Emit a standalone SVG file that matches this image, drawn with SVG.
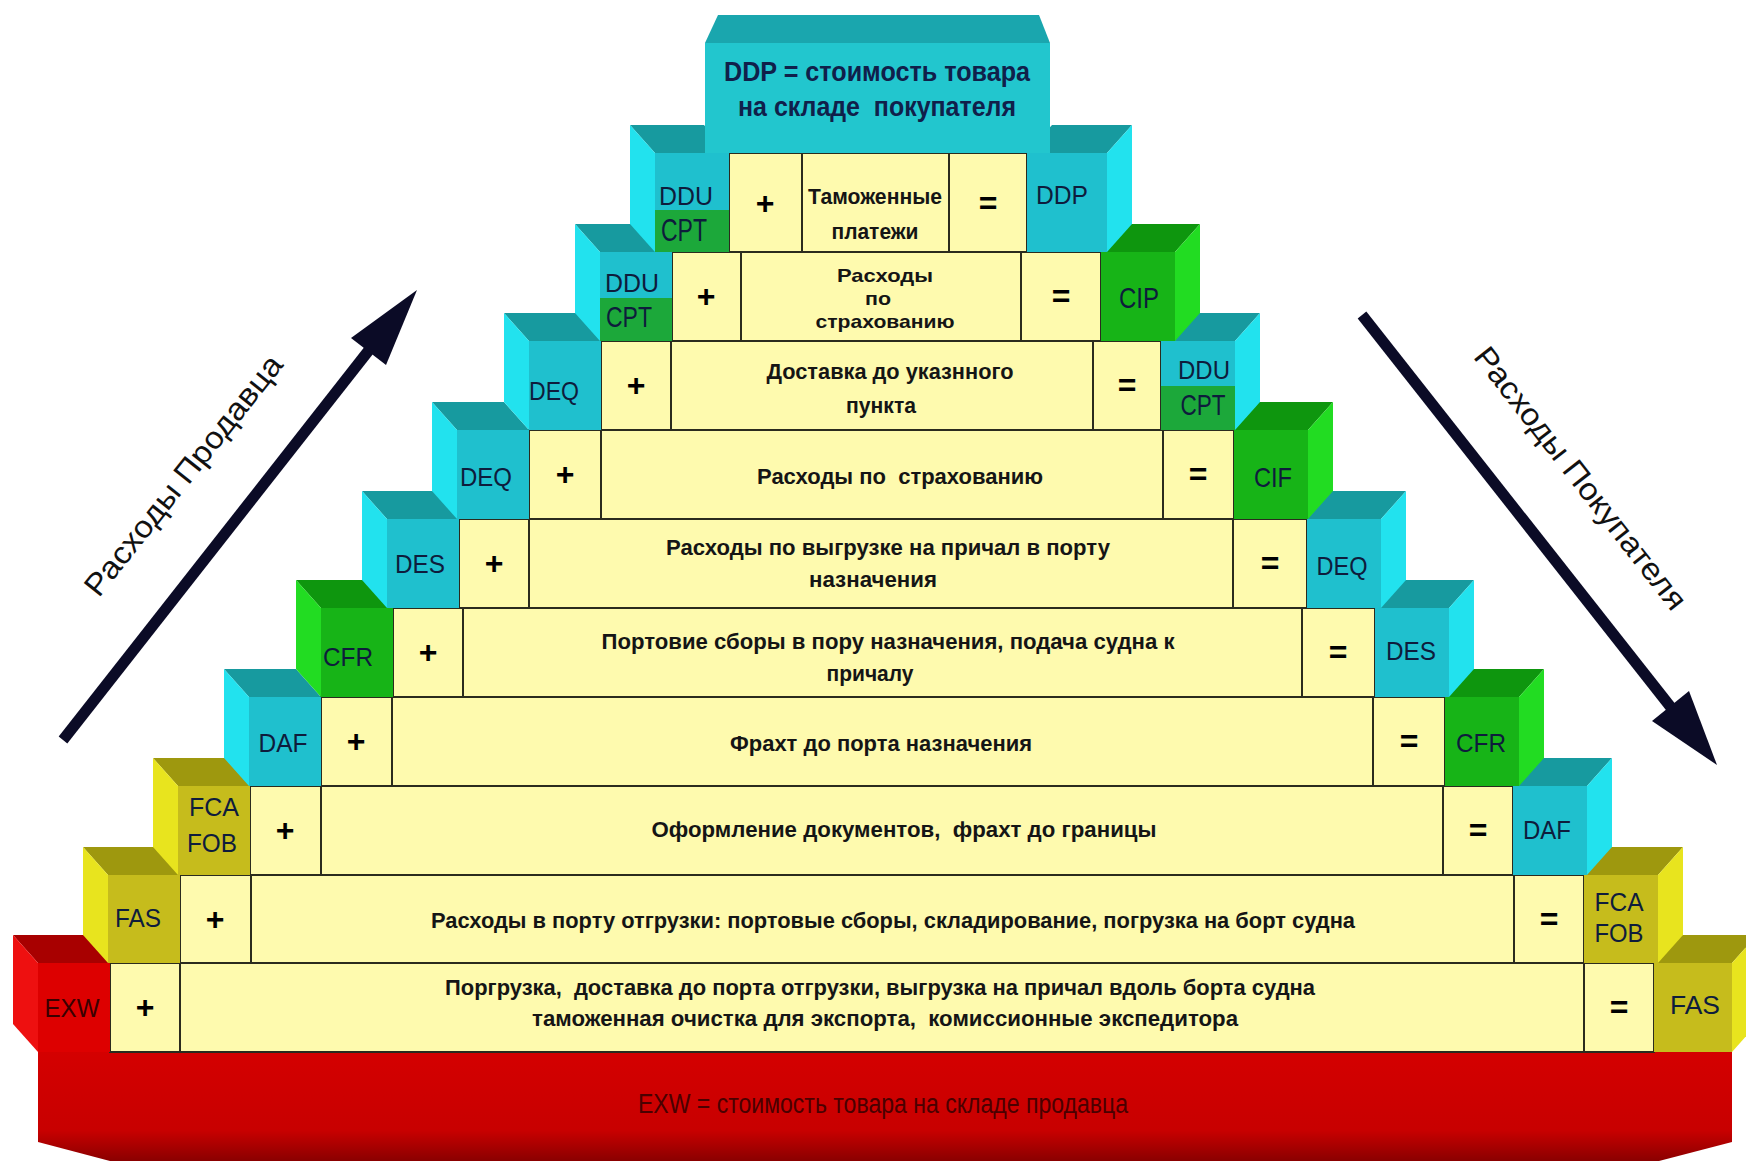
<svg xmlns="http://www.w3.org/2000/svg" width="1746" height="1161" viewBox="0 0 1746 1161">
<defs>
<style>
.cell{fill:#FEFAAE;stroke:#2b2b1e;stroke-width:2}
.vl{stroke:#2b2b1e;stroke-width:2}
.t{font-family:"Liberation Sans",Arial,sans-serif;font-weight:bold;font-size:22px;fill:#151515;text-anchor:middle;white-space:pre}
.t2{font-family:"Liberation Sans",Arial,sans-serif;font-weight:bold;font-size:19px;fill:#151515;text-anchor:middle}
.op{font-family:"Liberation Sans",Arial,sans-serif;font-weight:bold;font-size:32px;fill:#000;text-anchor:middle}
.lb{font-family:"Liberation Sans",Arial,sans-serif;font-size:26px;fill:#0e1c3c;text-anchor:middle}
.lbr{font-family:"Liberation Sans",Arial,sans-serif;font-size:26px;fill:#3a0000;text-anchor:middle}
.big{font-family:"Liberation Sans",Arial,sans-serif;font-weight:bold;font-size:27px;fill:#10204a;text-anchor:middle;white-space:pre}
.ax{font-family:"Liberation Sans",Arial,sans-serif;font-size:31px;fill:#111;text-anchor:middle}
.cf{fill:#1FC0CE}.cs{fill:#22E2EE}.ct{fill:#179A9F}
.gf{fill:#17B417}.gs{fill:#22DC22}.gt{fill:#0E960E}
.of{fill:#C6BC1C}.os{fill:#E8E41E}.ot{fill:#9E980E}
.rf{fill:#DD0000}.rs{fill:#EE1010}.rt{fill:#A80000}
.cp{fill:#1CA83A}
.arr{stroke:#0b0b26;stroke-width:11;fill:none}
.ah{fill:#0b0b26}
</style>
<linearGradient id="baseG" x1="0" y1="0" x2="0" y2="1">
<stop offset="0" stop-color="#D40000"/>
<stop offset="0.72" stop-color="#C80000"/>
<stop offset="1" stop-color="#8A0000"/>
</linearGradient>
</defs>
<rect width="1746" height="1161" fill="#fff"/>

<g id="base">
<polygon points="38,1052 1732,1052 1732,1142 1659,1161 110,1161 38,1142" fill="url(#baseG)"/>
<text x="883" y="1113" textLength="490" lengthAdjust="spacingAndGlyphs" style="font-family:'Liberation Sans',Arial,sans-serif;font-size:27px;fill:#4a0000;text-anchor:middle">EXW = стоимость товара на складе продавца</text>
</g>

<!-- Row 10 -->
<g id="row10">
<rect class="cell" x="110" y="963" width="1544" height="89"/>
<line class="vl" x1="180" y1="963" x2="180" y2="1052"/><line class="vl" x1="1584" y1="963" x2="1584" y2="1052"/>
<text class="op" x="145" y="1018">+</text><text class="op" x="1619" y="1018">=</text>
<text class="t" x="880" y="995" textLength="870" lengthAdjust="spacingAndGlyphs">Поргрузка,  доставка до порта отгрузки, выгрузка на причал вдоль борта судна</text>
<text class="t" x="885" y="1026" textLength="706" lengthAdjust="spacingAndGlyphs">таможенная очистка для экспорта,  комиссионные экспедитора</text>
</g>
<g id="blk-exw">
<polygon class="rt" points="38,963 110,963 85,935 13,935"/><polygon class="rs" points="38,963 13,935 13,1024 38,1052"/><rect class="rf" x="38" y="963" width="72" height="89"/>
<text class="lbr" x="72" y="1017" textLength="55" lengthAdjust="spacingAndGlyphs">EXW</text>
</g>
<g id="blk-fas-r">
<polygon class="ot" points="1654,963 1732,963 1757,935 1679,935"/><polygon class="os" points="1732,963 1757,935 1757,1024 1732,1052"/><rect class="of" x="1654" y="963" width="78" height="89"/>
<text class="lb" x="1695" y="1014" textLength="50" lengthAdjust="spacingAndGlyphs">FAS</text>
</g>

<!-- Row 9 -->
<g id="row9">
<rect class="cell" x="180" y="875" width="1404" height="88"/>
<line class="vl" x1="251" y1="875" x2="251" y2="963"/><line class="vl" x1="1514" y1="875" x2="1514" y2="963"/>
<text class="op" x="215" y="930">+</text><text class="op" x="1549" y="930">=</text>
<text class="t" x="893" y="928" textLength="924" lengthAdjust="spacingAndGlyphs">Расходы в порту отгрузки: портовые сборы, складирование, погрузка на борт судна</text>
</g>
<g id="blk-fas-l">
<polygon class="ot" points="108,875 180,875 155,847 83,847"/><polygon class="os" points="108,875 83,847 83,935 108,963"/><rect class="of" x="108" y="875" width="72" height="88"/>
<text class="lb" x="138" y="927" textLength="46" lengthAdjust="spacingAndGlyphs">FAS</text>
</g>
<g id="blk-fcafob-r">
<polygon class="ot" points="1584,875 1658,875 1683,847 1609,847"/><polygon class="os" points="1658,875 1683,847 1683,935 1658,963"/><rect class="of" x="1584" y="875" width="74" height="88"/>
<text class="lb" x="1619" y="911" textLength="49" lengthAdjust="spacingAndGlyphs">FCA</text>
<text class="lb" x="1619" y="942" textLength="49" lengthAdjust="spacingAndGlyphs">FOB</text>
</g>

<!-- Row 8 -->
<g id="row8">
<rect class="cell" x="250" y="786" width="1263" height="89"/>
<line class="vl" x1="321" y1="786" x2="321" y2="875"/><line class="vl" x1="1443" y1="786" x2="1443" y2="875"/>
<text class="op" x="285" y="841">+</text><text class="op" x="1478" y="841">=</text>
<text class="t" x="904" y="837" textLength="505" lengthAdjust="spacingAndGlyphs">Оформление документов,  фрахт до границы</text>
</g>
<g id="blk-fcafob-l">
<polygon class="ot" points="178,786 250,786 225,758 153,758"/><polygon class="os" points="178,786 153,758 153,847 178,875"/><rect class="of" x="178" y="786" width="72" height="89"/>
<text class="lb" x="214" y="816" textLength="50" lengthAdjust="spacingAndGlyphs">FCA</text>
<text class="lb" x="212" y="852" textLength="50" lengthAdjust="spacingAndGlyphs">FOB</text>
</g>
<g id="blk-daf-r">
<polygon class="ct" points="1513,786 1587,786 1612,758 1538,758"/><polygon class="cs" points="1587,786 1612,758 1612,847 1587,875"/><rect class="cf" x="1513" y="786" width="74" height="89"/>
<text class="lb" x="1547" y="839" textLength="48" lengthAdjust="spacingAndGlyphs">DAF</text>
</g>

<!-- Row 7 -->
<g id="row7">
<rect class="cell" x="321" y="697" width="1124" height="89"/>
<line class="vl" x1="392" y1="697" x2="392" y2="786"/><line class="vl" x1="1373" y1="697" x2="1373" y2="786"/>
<text class="op" x="356" y="752">+</text><text class="op" x="1409" y="752">=</text>
<text class="t" x="881" y="751" textLength="302" lengthAdjust="spacingAndGlyphs">Фрахт до порта назначения</text>
</g>
<g id="blk-daf-l">
<polygon class="ct" points="249,697 321,697 296,669 224,669"/><polygon class="cs" points="249,697 224,669 224,758 249,786"/><rect class="cf" x="249" y="697" width="72" height="89"/>
<text class="lb" x="283" y="752" textLength="49" lengthAdjust="spacingAndGlyphs">DAF</text>
</g>
<g id="blk-cfr-r">
<polygon class="gt" points="1445,697 1519,697 1544,669 1470,669"/><polygon class="gs" points="1519,697 1544,669 1544,758 1519,786"/><rect class="gf" x="1445" y="697" width="74" height="89"/>
<text class="lb" x="1481" y="752" textLength="50" lengthAdjust="spacingAndGlyphs">CFR</text>
</g>

<!-- Row 6 -->
<g id="row6">
<rect class="cell" x="393" y="608" width="982" height="89"/>
<line class="vl" x1="463" y1="608" x2="463" y2="697"/><line class="vl" x1="1302" y1="608" x2="1302" y2="697"/>
<text class="op" x="428" y="663">+</text><text class="op" x="1338" y="663">=</text>
<text class="t" x="888" y="649" textLength="573" lengthAdjust="spacingAndGlyphs">Портовие сборы в пору назначения, подача судна к</text>
<text class="t" x="870" y="681" textLength="87" lengthAdjust="spacingAndGlyphs">причалу</text>
</g>
<g id="blk-cfr-l">
<polygon class="gt" points="321,608 393,608 368,580 296,580"/><polygon class="gs" points="321,608 296,580 296,669 321,697"/><rect class="gf" x="321" y="608" width="72" height="89"/>
<text class="lb" x="348" y="666" textLength="50" lengthAdjust="spacingAndGlyphs">CFR</text>
</g>
<g id="blk-des-r">
<polygon class="ct" points="1375,608 1449,608 1474,580 1400,580"/><polygon class="cs" points="1449,608 1474,580 1474,669 1449,697"/><rect class="cf" x="1375" y="608" width="74" height="89"/>
<text class="lb" x="1411" y="660" textLength="50" lengthAdjust="spacingAndGlyphs">DES</text>
</g>

<!-- Row 5 -->
<g id="row5">
<rect class="cell" x="459" y="519" width="848" height="89"/>
<line class="vl" x1="529" y1="519" x2="529" y2="608"/><line class="vl" x1="1233" y1="519" x2="1233" y2="608"/>
<text class="op" x="494" y="574">+</text><text class="op" x="1270" y="574">=</text>
<text class="t" x="888" y="555" textLength="444" lengthAdjust="spacingAndGlyphs">Расходы по выгрузке на причал в порту</text>
<text class="t" x="873" y="587" textLength="128" lengthAdjust="spacingAndGlyphs">назначения</text>
</g>
<g id="blk-des-l">
<polygon class="ct" points="387,519 459,519 434,491 362,491"/><polygon class="cs" points="387,519 362,491 362,580 387,608"/><rect class="cf" x="387" y="519" width="72" height="89"/>
<text class="lb" x="420" y="573" textLength="50" lengthAdjust="spacingAndGlyphs">DES</text>
</g>
<g id="blk-deq-r5">
<polygon class="ct" points="1307,519 1381,519 1406,491 1332,491"/><polygon class="cs" points="1381,519 1406,491 1406,580 1381,608"/><rect class="cf" x="1307" y="519" width="74" height="89"/>
<text class="lb" x="1342" y="575" textLength="51" lengthAdjust="spacingAndGlyphs">DEQ</text>
</g>

<!-- Row 4 -->
<g id="row4">
<rect class="cell" x="529" y="430" width="705" height="89"/>
<line class="vl" x1="601" y1="430" x2="601" y2="519"/><line class="vl" x1="1163" y1="430" x2="1163" y2="519"/>
<text class="op" x="565" y="485">+</text><text class="op" x="1198" y="485">=</text>
<text class="t" x="900" y="484" textLength="286" lengthAdjust="spacingAndGlyphs">Расходы по  страхованию</text>
</g>
<g id="blk-deq-l4">
<polygon class="ct" points="457,430 529,430 504,402 432,402"/><polygon class="cs" points="457,430 432,402 432,491 457,519"/><rect class="cf" x="457" y="430" width="72" height="89"/>
<text class="lb" x="486" y="486" textLength="52" lengthAdjust="spacingAndGlyphs">DEQ</text>
</g>
<g id="blk-cif">
<polygon class="gt" points="1234,430 1308,430 1333,402 1259,402"/><polygon class="gs" points="1308,430 1333,402 1333,491 1308,519"/><rect class="gf" x="1234" y="430" width="74" height="89"/>
<text class="lb" x="1273" y="487" textLength="38" lengthAdjust="spacingAndGlyphs" style="font-size:28px">CIF</text>
</g>

<!-- Row 3 -->
<g id="row3">
<rect class="cell" x="601" y="341" width="560" height="89"/>
<line class="vl" x1="671" y1="341" x2="671" y2="430"/><line class="vl" x1="1093" y1="341" x2="1093" y2="430"/>
<text class="op" x="636" y="396">+</text><text class="op" x="1127" y="396">=</text>
<text class="t" x="890" y="379" textLength="247" lengthAdjust="spacingAndGlyphs">Доставка до указнного</text>
<text class="t" x="881" y="413" textLength="70" lengthAdjust="spacingAndGlyphs">пункта</text>
</g>
<g id="blk-deq-l3">
<polygon class="ct" points="529,341 601,341 576,313 504,313"/><polygon class="cs" points="529,341 504,313 504,402 529,430"/><rect class="cf" x="529" y="341" width="72" height="89"/>
<text class="lb" x="554" y="400" textLength="50" lengthAdjust="spacingAndGlyphs">DEQ</text>
</g>
<g id="blk-ddu-r3">
<polygon class="ct" points="1161,341 1235,341 1260,313 1186,313"/><polygon class="cs" points="1235,341 1260,313 1260,402 1235,430"/><rect class="cf" x="1161" y="341" width="74" height="45"/><rect class="cp" x="1161" y="386" width="74" height="44"/>
<text class="lb" x="1204" y="379" textLength="52" lengthAdjust="spacingAndGlyphs">DDU</text>
<text class="lb" x="1203" y="415" textLength="45" lengthAdjust="spacingAndGlyphs" style="font-size:30px">CPT</text>
</g>

<!-- Row 2 -->
<g id="row2">
<rect class="cell" x="672" y="252" width="429" height="89"/>
<line class="vl" x1="741" y1="252" x2="741" y2="341"/><line class="vl" x1="1021" y1="252" x2="1021" y2="341"/>
<text class="op" x="706" y="307">+</text><text class="op" x="1061" y="307">=</text>
<text class="t2" x="885" y="282" textLength="96" lengthAdjust="spacingAndGlyphs">Расходы</text>
<text class="t2" x="878" y="305" textLength="26" lengthAdjust="spacingAndGlyphs">по</text>
<text class="t2" x="885" y="328" textLength="139" lengthAdjust="spacingAndGlyphs">страхованию</text>
</g>
<g id="blk-ddu-l2">
<polygon class="ct" points="600,252 672,252 647,224 575,224"/><polygon class="cs" points="600,252 575,224 575,313 600,341"/><rect class="cf" x="600" y="252" width="72" height="46"/><rect class="cp" x="600" y="298" width="72" height="43"/>
<text class="lb" x="632" y="292" textLength="54" lengthAdjust="spacingAndGlyphs">DDU</text>
<text class="lb" x="629" y="327" textLength="46" lengthAdjust="spacingAndGlyphs" style="font-size:30px">CPT</text>
</g>
<g id="blk-cip">
<polygon class="gt" points="1101,252 1175,252 1200,224 1126,224"/><polygon class="gs" points="1175,252 1200,224 1200,313 1175,341"/><rect class="gf" x="1101" y="252" width="74" height="89"/>
<text class="lb" x="1139" y="308" textLength="40" lengthAdjust="spacingAndGlyphs" style="font-size:30px">CIP</text>
</g>

<!-- Row 1 -->
<g id="row1">
<rect class="cell" x="729" y="153" width="298" height="99"/>
<line class="vl" x1="802" y1="153" x2="802" y2="252"/><line class="vl" x1="949" y1="153" x2="949" y2="252"/>
<text class="op" x="765" y="214">+</text><text class="op" x="988" y="214">=</text>
<text class="t" x="875" y="204" textLength="134" lengthAdjust="spacingAndGlyphs">Таможенные</text>
<text class="t" x="875" y="239" textLength="87" lengthAdjust="spacingAndGlyphs">платежи</text>
</g>
<g id="blk-ddu-l1">
<polygon class="ct" points="655,153 729,153 704,125 630,125"/><polygon class="cs" points="655,153 630,125 630,224 655,252"/><rect class="cf" x="655" y="153" width="74" height="57"/><rect class="cp" x="655" y="210" width="74" height="42"/>
<text class="lb" x="686" y="205" textLength="54" lengthAdjust="spacingAndGlyphs">DDU</text>
<text class="lb" x="684" y="241" textLength="46" lengthAdjust="spacingAndGlyphs" style="font-size:32px">CPT</text>
</g>
<g id="blk-ddp-r">
<polygon class="ct" points="1027,153 1107,153 1132,125 1052,125"/><polygon class="cs" points="1107,153 1132,125 1132,224 1107,252"/><rect class="cf" x="1027" y="153" width="80" height="99"/>
<text class="lb" x="1062" y="204" textLength="52" lengthAdjust="spacingAndGlyphs">DDP</text>
</g>

<!-- Top box -->
<g id="top-ddp">
<polygon points="718,15 1039,15 1050,43 705,43" fill="#1AA6AE"/>
<rect x="705" y="43" width="345" height="110" fill="#22C6CE"/>
<text class="big" x="877" y="81" textLength="306" lengthAdjust="spacingAndGlyphs">DDP = стоимость товара</text>
<text class="big" x="877" y="116" textLength="278" lengthAdjust="spacingAndGlyphs">на складе  покупателя</text>
</g>

<g id="connectors">
<line class="arr" x1="63" y1="740" x2="373" y2="345"/>
<polygon class="ah" points="417,290 386,365 351,338"/>
<line class="arr" x1="1362" y1="315" x2="1673" y2="710"/>
<polygon class="ah" points="1717,765 1652,721 1689,691"/>
</g>
<g id="axis-labels">
<text class="ax" transform="translate(183,475) rotate(-51.5)" x="0" y="11" textLength="298" lengthAdjust="spacingAndGlyphs">Расходы Продавца</text>
<text class="ax" transform="translate(1581,478) rotate(52)" x="0" y="11" textLength="324" lengthAdjust="spacingAndGlyphs">Расходы Покупателя</text>
</g>
</svg>
